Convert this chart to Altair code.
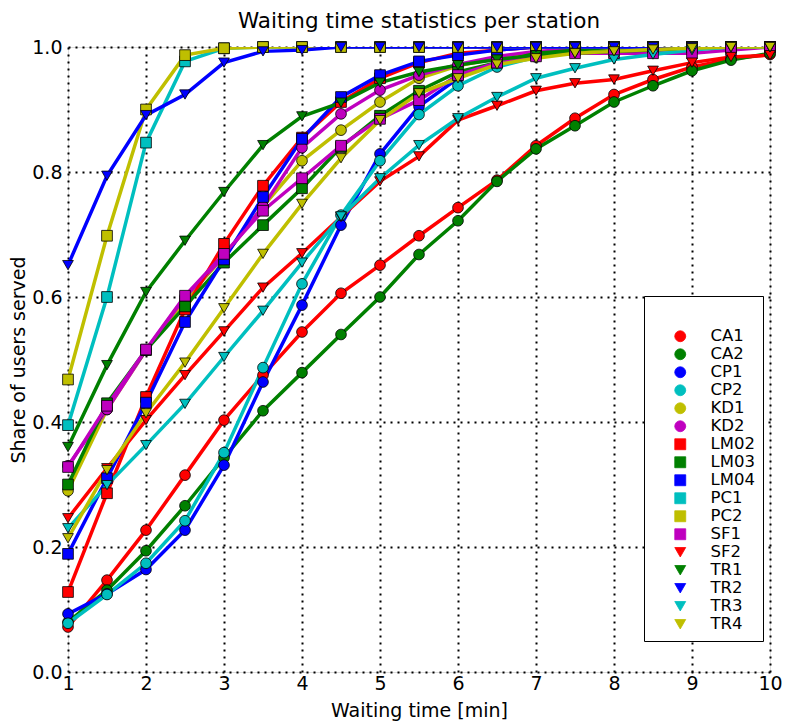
import altair as alt
import pandas as pd

x_values = [1, 1.5, 2, 2.5, 3, 3.5, 4, 4.5, 5, 5.5, 6, 6.5, 7, 7.5, 8, 8.5, 9, 9.5, 10]

stations = ["CA1", "CA2", "CP1", "CP2", "KD1", "KD2", "LM02", "LM03", "LM04",
            "PC1", "PC2", "SF1", "SF2", "TR1", "TR2", "TR3", "TR4"]

CA1 = [0.072, 0.147, 0.227, 0.315, 0.403, 0.475, 0.544, 0.606, 0.651, 0.698, 0.743, 0.787, 0.842, 0.886, 0.924, 0.948, 0.968, 0.981, 0.988]
CA2 = [0.080, 0.131, 0.194, 0.266, 0.343, 0.418, 0.479, 0.540, 0.600, 0.668, 0.722, 0.785, 0.837, 0.874, 0.912, 0.938, 0.962, 0.979, 0.990]
CP1 = [0.093, 0.125, 0.164, 0.227, 0.331, 0.464, 0.587, 0.715, 0.829, 0.905, 0.950, 0.975, 0.988, 0.995, 0.998, 1.0, 1.0, 1.0, 1.0]
CP2 = [0.078, 0.124, 0.174, 0.242, 0.351, 0.487, 0.621, 0.731, 0.818, 0.892, 0.938, 0.968, 0.984, 0.992, 0.997, 0.999, 1.0, 1.0, 1.0]
KD1 = [0.290, 0.420, 0.515, 0.595, 0.665, 0.745, 0.818, 0.867, 0.912, 0.950, 0.970, 0.982, 0.990, 0.995, 0.998, 1.0, 1.0, 1.0, 1.0]
KD2 = [0.330, 0.420, 0.515, 0.600, 0.665, 0.745, 0.839, 0.893, 0.931, 0.955, 0.972, 0.985, 0.993, 0.997, 1.0, 1.0, 1.0, 1.0, 1.0]
LM02 = [0.128, 0.286, 0.440, 0.580, 0.685, 0.778, 0.855, 0.912, 0.950, 0.975, 0.990, 0.995, 1.0, 1.0, 1.0, 1.0, 1.0, 1.0, 1.0]
LM03 = [0.300, 0.430, 0.515, 0.585, 0.655, 0.715, 0.774, 0.840, 0.890, 0.930, 0.960, 0.975, 0.990, 0.995, 1.0, 1.0, 1.0, 1.0, 1.0]
LM04 = [0.189, 0.310, 0.431, 0.560, 0.660, 0.760, 0.853, 0.920, 0.955, 0.977, 0.987, 0.995, 1.0, 1.0, 1.0, 1.0, 1.0, 1.0, 1.0]
PC1 = [0.395, 0.600, 0.847, 0.977, 0.998, 1.0, 1.0, 1.0, 1.0, 1.0, 1.0, 1.0, 1.0, 1.0, 1.0, 1.0, 1.0, 1.0, 1.0]
PC2 = [0.468, 0.698, 0.900, 0.987, 0.998, 1.0, 1.0, 1.0, 1.0, 1.0, 1.0, 1.0, 1.0, 1.0, 1.0, 1.0, 1.0, 1.0, 1.0]
SF1 = [0.328, 0.426, 0.516, 0.602, 0.669, 0.738, 0.790, 0.842, 0.885, 0.915, 0.955, 0.975, 0.985, 0.990, 0.990, 0.990, 0.990, 0.995, 1.0]
SF2 = [0.246, 0.326, 0.403, 0.475, 0.545, 0.615, 0.670, 0.728, 0.785, 0.825, 0.883, 0.906, 0.930, 0.942, 0.948, 0.962, 0.975, 0.984, 0.987]
TR1 = [0.360, 0.491, 0.608, 0.690, 0.768, 0.843, 0.889, 0.911, 0.943, 0.960, 0.971, 0.980, 0.987, 0.990, 0.993, 0.995, 0.997, 1.0, 1.0]
TR2 = [0.651, 0.794, 0.891, 0.924, 0.975, 0.993, 0.995, 1.0, 1.0, 1.0, 1.0, 1.0, 1.0, 1.0, 1.0, 1.0, 1.0, 1.0, 1.0]
TR3 = [0.230, 0.299, 0.363, 0.429, 0.504, 0.578, 0.655, 0.729, 0.790, 0.843, 0.886, 0.920, 0.950, 0.966, 0.980, 0.988, 0.995, 1.0, 1.0]
TR4 = [0.214, 0.323, 0.414, 0.495, 0.582, 0.669, 0.749, 0.822, 0.883, 0.926, 0.950, 0.972, 0.982, 0.990, 0.993, 0.996, 0.998, 1.0, 1.0]

series = [CA1, CA2, CP1, CP2, KD1, KD2, LM02, LM03, LM04, PC1, PC2, SF1, SF2, TR1, TR2, TR3, TR4]

colors = ["#ff0000", "#008000", "#0000ff", "#00bfbf", "#bfbf00", "#bf00bf"] * 2 + \
         ["#ff0000", "#008000", "#0000ff", "#00bfbf", "#bfbf00"]
shapes = ["circle"] * 6 + ["square"] * 6 + ["triangle-down"] * 5

rows = []
for i, (name, vals) in enumerate(zip(stations, series)):
    for xv, yv in zip(x_values, vals):
        rows.append({"station": name, "order": i, "x": xv, "y": yv})
df = pd.DataFrame(rows)

FONT = "DejaVu Sans"

xenc = alt.X("x:Q", scale=alt.Scale(domain=[1, 10], nice=False),
             axis=alt.Axis(title="Waiting time [min]", values=list(range(1, 11)), format="d",
                           labelFontSize=19, titleFontSize=19, titleFontWeight="normal",
                           labelBaseline="middle", labelPadding=11, labelFlush=False,
                           titlePadding=8, labelColor="black", titleColor="black",
                           gridColor="black", gridDash=[2, 5], gridWidth=2, gridOpacity=1,
                           domain=False, ticks=False,
                           labelFont=FONT, titleFont=FONT))
yenc = alt.Y("y:Q", scale=alt.Scale(domain=[0, 1], nice=False),
             axis=alt.Axis(title="Share of users served", values=[0, 0.2, 0.4, 0.6, 0.8, 1.0], format=".1f",
                           labelFontSize=19, titleFontSize=19, titleFontWeight="normal",
                           labelPadding=6, titlePadding=3, labelFlush=False,
                           labelColor="black", titleColor="black",
                           gridColor="black", gridDash=[2, 5], gridWidth=2, gridOpacity=1,
                           domain=False, ticks=False,
                           labelFont=FONT, titleFont=FONT))

color_scale = alt.Scale(domain=stations, range=colors)
shape_scale = alt.Scale(domain=stations, range=shapes)

legend = alt.Legend(title=" ", titleFontSize=12, titlePadding=12,
                    orient="none", legendX=576, legendY=249,
                    fillColor="white", strokeColor="black",
                    padding=8, labelFontSize=16.5, labelFont=FONT, labelColor="black",
                    symbolSize=120, symbolStrokeColor="black", symbolStrokeWidth=0.8,
                    symbolOpacity=1,
                    rowPadding=1.0, labelOffset=22, symbolOffset=20)

lines = alt.Chart(df).mark_line(strokeWidth=3.5, clip=True).encode(
    x=xenc, y=yenc,
    color=alt.Color("station:N", scale=color_scale, legend=legend),
    detail="station:N",
    order=alt.Order("x:Q"),
)

points = alt.Chart(df).mark_point(filled=True, size=115, stroke="black", strokeWidth=0.8,
                                  opacity=1, clip=False).encode(
    x=xenc, y=yenc,
    color=alt.Color("station:N", scale=color_scale, legend=legend),
    shape=alt.Shape("station:N", scale=shape_scale, legend=legend),
    order=alt.Order("order:Q"),
)

chart = alt.layer(lines, points).properties(
    width=702, height=625,
    title=alt.TitleParams("Waiting time statistics per station", fontSize=21.5, font=FONT,
                          fontWeight="normal", color="black", anchor="middle", offset=6),
    autosize=alt.AutoSizeParams(type="none"),
    padding={"left": 68, "top": 47, "right": 16, "bottom": 53},
).configure_view(stroke="black", strokeWidth=2.5).configure(background="white")

chart.save("out.html", embed_options={"renderer": "svg", "actions": False})
